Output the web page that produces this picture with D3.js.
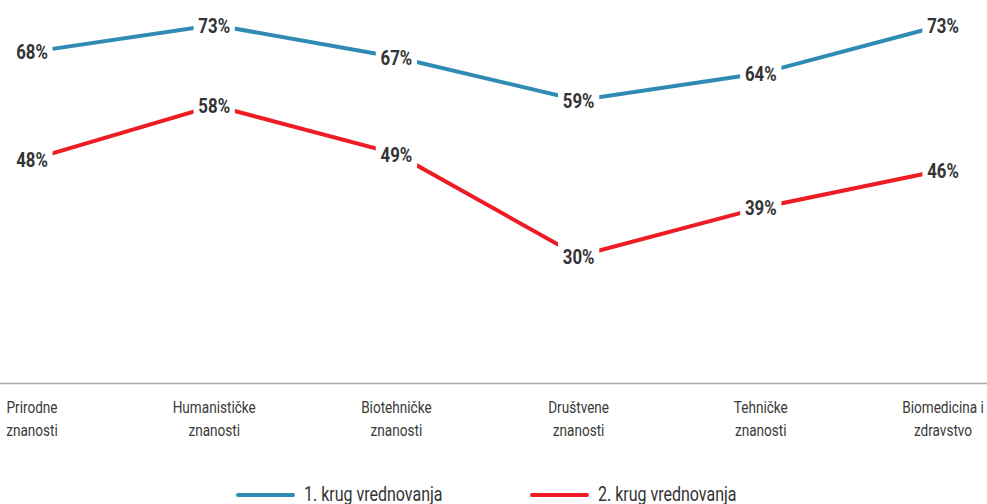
<!DOCTYPE html>
<html><head><meta charset="utf-8">
<script src="https://cdn.jsdelivr.net/npm/d3@7"></script>
<style>
html,body{margin:0;padding:0;background:#fff;}
svg{display:block;}
text{font-family:Roboto,"Noto Sans",sans-serif;}
</style></head>
<body><svg id="c" width="987" height="504"></svg>
<script>
const categories = ["Prirodne znanosti","Humanističke znanosti","Biotehničke znanosti","Društvene znanosti","Tehničke znanosti","Biomedicina i zdravstvo"];
const categoryLines = [["Prirodne","znanosti"],["Humanističke","znanosti"],["Biotehničke","znanosti"],["Društvene","znanosti"],["Tehničke","znanosti"],["Biomedicina i","zdravstvo"]];
const round1 = [68,73,67,59,64,73];
const round2 = [48,58,49,30,39,46];
const seriesNames = ["1. krug vrednovanja","2. krug vrednovanja"];
const seriesColors = ["#2f8bb3","#ee1c25"];

const svg = d3.select("#c");
const x = d3.scalePoint().domain(categories).range([32, 943]);
const y = d3.scaleLinear().domain([30,73]).range([256,25]);
const condense = 0.8;

function ctext(parent, px, py, str, opts){
  const g = parent.append("g").attr("transform",`translate(${px},${py}) scale(${condense},1)`);
  const t = g.append("text").attr("x",0).attr("y",0)
    .attr("text-anchor",opts.anchor||"middle").attr("font-size",opts.size)
    .attr("font-weight",opts.weight||"normal").attr("fill",opts.fill||"#333")
    .attr("dy",opts.dy||0).text(str);
  return {g,t};
}

// axis line
svg.append("line").attr("x1",0).attr("x2",987).attr("y1",383.5).attr("y2",383.5)
  .attr("stroke","#aaa").attr("stroke-width",1.5);

// category labels
const cat = svg.append("g");
categories.forEach((c,i)=>{
  categoryLines[i].forEach((l,j)=>{
    ctext(cat, x(c), 413 + j*23, l, {size:17, fill:"#3a3a3a"});
  });
});

const series = [round1, round2];
const line = d3.line().x((d,i)=>x(categories[i])).y(d=>y(d));
series.forEach((s,k)=>{
  svg.append("path").datum(s).attr("d",line).attr("fill","none")
    .attr("stroke",seriesColors[k]).attr("stroke-width",4);
});
series.forEach((s,k)=>{
  const g = svg.append("g");
  s.forEach((v,i)=>{
    const {g:tg,t} = ctext(g, x(categories[i]), y(v), v+"%", {size:21, weight:"bold", fill:"#333", dy:"0.36em"});
    const bb = t.node().getBBox();
    tg.insert("rect","text").attr("x",bb.x-6).attr("y",bb.y-2).attr("width",bb.width+12)
      .attr("height",bb.height+4).attr("fill","#fff");
  });
});

// legend
const legX = [238, 532];
seriesNames.forEach((n,k)=>{
  svg.append("line").attr("x1",legX[k]).attr("x2",legX[k]+55).attr("y1",495).attr("y2",495)
    .attr("stroke",seriesColors[k]).attr("stroke-width",4).attr("stroke-linecap","round");
  ctext(svg, legX[k]+66, 501, n, {size:20, fill:"#333", anchor:"start"});
});
</script></body></html>
